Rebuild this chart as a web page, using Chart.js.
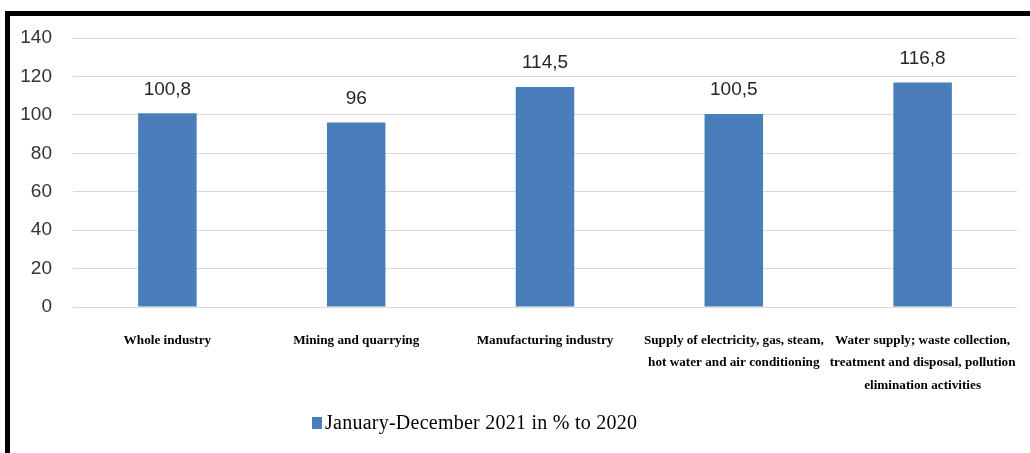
<!DOCTYPE html>
<html lang="en">
  <head>
    <meta charset="utf-8" />
    <title>Industrial production index 2021</title>
    <style>
      * {
        margin: 0;
        padding: 0;
      }
      body {
        width: 1030px;
        height: 453px;
        background: white;
        overflow: hidden;
        position: relative;
      }
      .frame {
        position: absolute;
        left: 5px;
        top: 11px;
        width: 1030px;
        height: 460px;
        border-top: 5px solid #000;
        border-left: 5px solid #000;
      }
      #myChart {
        position: absolute;
        left: 10px;
        top: 16px;
      }
      .legend {
        position: absolute;
        left: 312px;
        top: 411px;
        font-family: "Liberation Serif", serif;
        font-size: 20px;
        letter-spacing: 0.25px;
        color: #000;
        white-space: nowrap;
        display: flex;
        align-items: center;
      }
      .legend span.box {
        display: inline-block;
        width: 10px;
        height: 12px;
        background: #4a7ebb;
        margin-right: 3px;
      }
    </style>
  </head>
  <body>
    <div class="frame"></div>
    <canvas id="myChart" width="1020" height="437"></canvas>
    <div class="legend"><span class="box"></span><span id="legendText"></span></div>

    <script src="https://cdn.jsdelivr.net/npm/chart.js"></script>

    <script>
      // data block
      const categories = [
        ["Whole industry"],
        ["Mining and quarrying"],
        ["Manufacturing industry"],
        ["Supply of electricity, gas, steam,", "hot water and air conditioning"],
        ["Water supply; waste collection,", "treatment and disposal, pollution", "elimination activities"],
      ];
      const values = [100.8, 96, 114.5, 100.5, 116.8];
      const yTicks = [0, 20, 40, 60, 80, 100, 120, 140];
      const seriesName = "January-December 2021 in % to 2020";

      document.getElementById("legendText").textContent = seriesName;

      // value labels above the bars (comma as decimal sign)
      const barValues = {
        id: "barValues",
        afterDatasetsDraw(chart) {
          const { ctx } = chart;
          const meta = chart.getDatasetMeta(0);
          ctx.save();
          ctx.font = "19px 'Liberation Sans', sans-serif";
          ctx.fillStyle = "#262626";
          ctx.textAlign = "center";
          ctx.textBaseline = "middle";
          meta.data.forEach((bar, i) => {
            const txt = String(chart.data.datasets[0].data[i]).replace(".", ",");
            ctx.fillText(txt, bar.x, bar.y - 24);
          });
          ctx.restore();
        },
      };

      const config = {
        type: "bar",
        data: {
          labels: categories,
          datasets: [
            {
              label: seriesName,
              data: values,
              backgroundColor: "#4a7ebb",
              barPercentage: 0.31,
              categoryPercentage: 1,
            },
          ],
        },
        options: {
          responsive: false,
          animation: false,
          layout: { padding: { top: 22, right: 13, left: 0, bottom: 0 } },
          plugins: {
            legend: { display: false },
            tooltip: { enabled: false },
          },
          scales: {
            x: {
              grid: { display: false, drawTicks: false },
              border: { display: false },
              afterFit(scale) {
                scale.height = 146;
                // don't let the wide labels push the plot area in
                scale.paddingLeft = 0;
                scale.paddingRight = 0;
              },
              ticks: {
                padding: 22,
                maxRotation: 0,
                autoSkip: false,
                color: "#000",
                font: {
                  family: "'Liberation Serif', serif",
                  size: 13.2,
                  weight: "bold",
                  lineHeight: "22.5px",
                },
              },
            },
            y: {
              min: 0,
              max: 140,
              afterFit(scale) {
                scale.width = 63;
                scale.paddingTop = 0;
                scale.paddingBottom = 0;
              },
              afterBuildTicks(scale) {
                scale.ticks = yTicks.map((v) => ({ value: v }));
              },
              grid: { color: "#d9d9d9", lineWidth: 1, drawTicks: false },
              border: { display: false },
              ticks: {
                padding: 21,
                color: "#333",
                font: { family: "'Liberation Sans', sans-serif", size: 19 },
              },
            },
          },
        },
        plugins: [barValues],
      };

      const myChart = new Chart(document.getElementById("myChart"), config);
    </script>
  </body>
</html>
